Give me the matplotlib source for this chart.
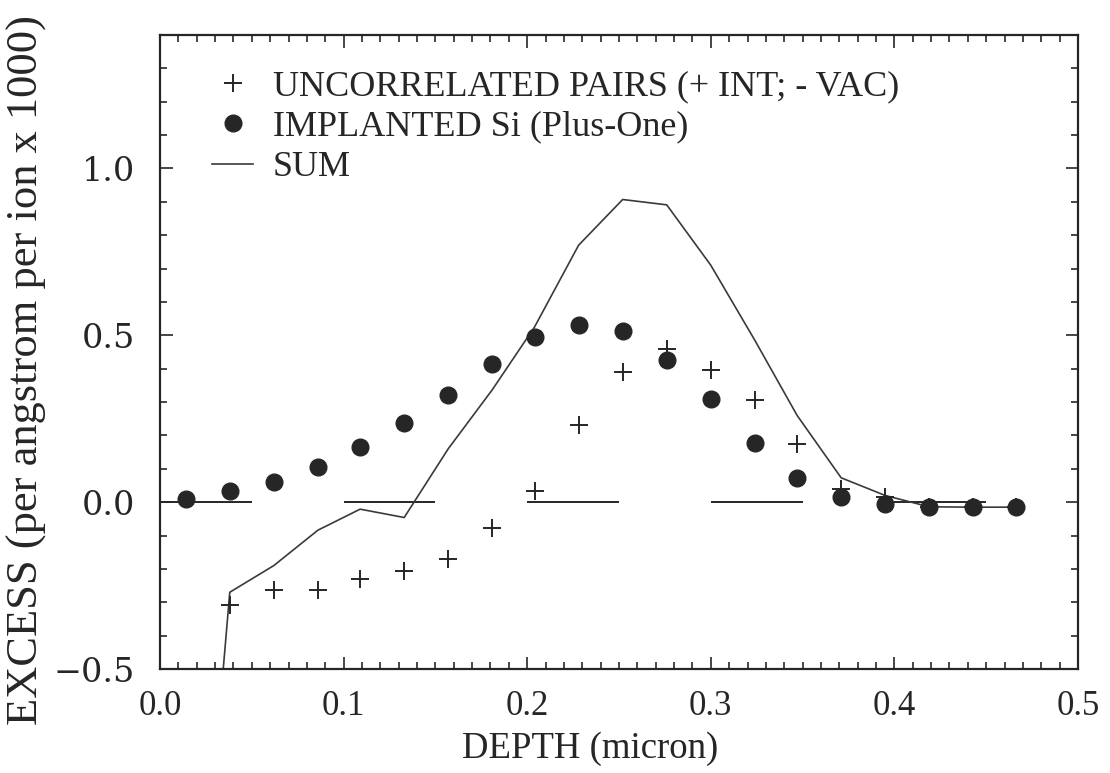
import numpy as np
import matplotlib.pyplot as plt
from matplotlib.lines import Line2D
from matplotlib.ticker import MultipleLocator

# datos
depth = [0.014, 0.038, 0.062, 0.086, 0.109, 0.133, 0.157, 0.181, 0.204, 0.228,
         0.252, 0.276, 0.300, 0.324, 0.347, 0.371, 0.395, 0.419, 0.443, 0.466]
pairs = [-1.83, -0.308, -0.263, -0.263, -0.230, -0.207, -0.169, -0.076, 0.033, 0.230,
         0.390, 0.460, 0.397, 0.307, 0.174, 0.040, 0.016, -0.014, -0.015, -0.015]
implanted = [0.009, 0.033, 0.060, 0.104, 0.165, 0.237, 0.322, 0.413, 0.494, 0.532,
             0.513, 0.425, 0.308, 0.176, 0.073, 0.016, -0.007, -0.016, -0.016, -0.016]
total = [-1.82, -0.270, -0.190, -0.084, -0.021, -0.046, 0.160, 0.337, 0.525, 0.770,
         0.907, 0.891, 0.710, 0.485, 0.260, 0.073, 0.020, -0.014, -0.015, -0.015]

labels = ['UNCORRELATED PAIRS (+ INT; - VAC)', 'IMPLANTED Si (Plus-One)', 'SUM']

ink = '#262626'
serif = 'Liberation Serif'

fig = plt.figure(figsize=(11.1, 7.73), dpi=100)
ax = fig.add_axes([160/1110, 1 - 669/773, 918/1110, 634/773])

# linea de cero a trazos (0.05 lleno, 0.05 vacio)
starts = np.arange(0.0, 0.5, 0.1)
ax.hlines(np.zeros(len(starts)), starts, starts + 0.05, color=ink, lw=1.4)

ax.plot(depth, total, color='#3a3a3a', lw=1.2)
ax.plot(depth, pairs, ls='none', marker='+', ms=13, mew=1.4, color=ink)
ax.plot(depth, implanted, ls='none', marker='o', ms=12, color=ink, mec=ink)

ax.set_xlim(0, 0.5)
ax.set_ylim(-0.5, 1.4)

ax.xaxis.set_major_locator(MultipleLocator(0.1))
ax.xaxis.set_minor_locator(MultipleLocator(0.01))
ax.yaxis.set_major_locator(MultipleLocator(0.5))
ax.yaxis.set_minor_locator(MultipleLocator(0.1))
ax.set_yticks([-0.5, 0.0, 0.5, 1.0])
ax.xaxis.set_major_formatter(lambda v, p: f'{v:.1f}')
ax.yaxis.set_major_formatter(lambda v, p: f'{v:.1f}'.replace('-', '\u2212'))

ax.tick_params(which='both', direction='in', top=True, right=True, color=ink, width=1.2)
ax.tick_params(which='major', length=9)
ax.tick_params(which='minor', length=5)
ax.tick_params(axis='x', which='major', pad=15, labelsize=25, labelcolor=ink)
ax.tick_params(axis='y', which='major', pad=18, labelsize=24, labelcolor=ink)
for t in ax.get_xticklabels():
    t.set_family(serif)
for t in ax.get_yticklabels():
    t.set_family('DejaVu Serif')

for s in ax.spines.values():
    s.set_linewidth(1.6)
    s.set_color(ink)

ax.set_xlabel('DEPTH (micron)', fontsize=26.5, family=serif, color=ink)
ax.xaxis.set_label_coords(0.469, -0.125)
ax.xaxis.label.set_va('center')
ax.set_ylabel('EXCESS (per angstrom per ion x 1000)', fontsize=32, family=serif, color=ink)
ax.yaxis.set_label_coords(-0.145, 0.472)
ax.yaxis.label.set_va('center')

handles = [Line2D([], [], ls='none', marker='+', ms=13, mew=1.4, color=ink),
           Line2D([], [], ls='none', marker='o', ms=12, color=ink),
           Line2D([], [], color='#3a3a3a', lw=1.2)]
leg = ax.legend(handles, labels, loc='upper left', bbox_to_anchor=(0.057, 0.945),
                frameon=False, borderpad=0, borderaxespad=0, handlelength=1.14,
                handletextpad=0.53, labelspacing=0.2,
                prop={'family': serif, 'size': 26})
for t in leg.get_texts():
    t.set_color(ink)

fig.savefig('out.png', dpi=100)
